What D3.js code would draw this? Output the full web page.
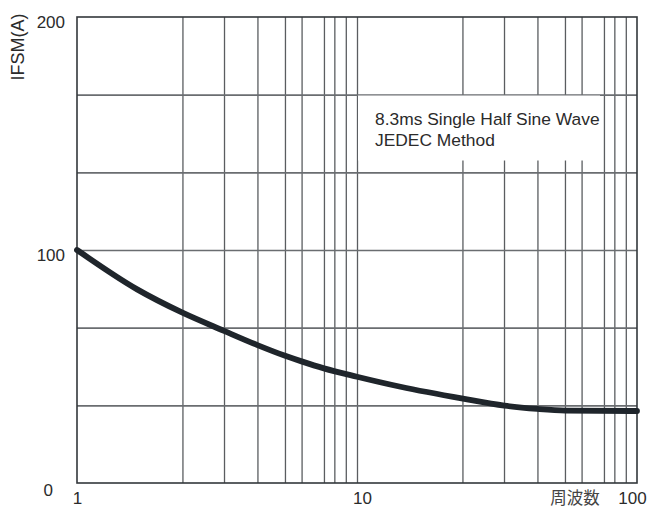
<!DOCTYPE html>
<html>
<head>
<meta charset="utf-8">
<script src="https://cdn.jsdelivr.net/npm/d3@7"></script>
<style>
  body { margin: 0; background: #fff; }
  svg { display: block; }
  text { font-family: "Liberation Sans", Arial, sans-serif; fill: #2b2b2b; }
</style>
</head>
<body>
<svg width="648" height="508"></svg>
<script>
// surge current vs number of cycles
var cycles = [1, 1.64, 2.38, 3.35, 4.41, 5.54, 6.34, 7.62, 10, 14.3, 23.9, 33.6, 44, 55.5, 100];
var ifsm   = [100, 83.1, 73.1, 65.3, 59.2, 54.6, 52.2, 49.2, 45.6, 41.3, 36.2, 33.2, 31.8, 31.1, 30.9];

var xTicks = [1, 10, 100];
var yTicks = [0, 100, 200];
var decades = [1, 10];
var minorMant = [2.38, 3.35, 4.41, 5.53, 6.34, 7.62, 8.3, 9.12];
var ySteps = [1, 2, 3, 4, 5];

var note = ["8.3ms Single Half Sine Wave", "JEDEC Method"];

var pLeft = 77, pTop = 17, pRight = 637, pBottom = 483;

var xs = d3.scaleLog().domain([1, 100]).range([pLeft, pRight]);
var ys = d3.scaleLinear().domain([0, 200]).range([pBottom, pTop]);

var svg = d3.select("svg");

// vertical grid
var vGrid = [];
decades.forEach(function(d){
  minorMant.forEach(function(m){ vGrid.push(d * m); });
});
vGrid.push(10);

svg.append("g")
  .attr("transform", "translate(0," + pTop + ")")
  .call(d3.axisBottom(xs).tickValues(vGrid).tickSize(pBottom - pTop).tickFormat(""))
  .call(function(g){
    g.select(".domain").remove();
    g.selectAll("line").attr("stroke", "#5a5d60").attr("stroke-width", 1.3);
  });

// horizontal grid
svg.append("g")
  .attr("transform", "translate(" + pLeft + ",0)")
  .call(d3.axisRight(ys).tickValues(ySteps.map(function(i){ return i * 200 / 6; }))
        .tickSize(pRight - pLeft).tickFormat(""))
  .call(function(g){
    g.select(".domain").remove();
    g.selectAll("line").attr("stroke", "#6a6d70").attr("stroke-width", 1.6);
  });

// note box
svg.append("rect")
  .attr("x", 358).attr("y", 95.5)
  .attr("width", 242).attr("height", 65)
  .attr("fill", "#fff");

svg.append("g").selectAll("text").data(note).enter().append("text")
  .attr("x", 375)
  .attr("y", function(d, i){ return 125 + i * 21; })
  .attr("font-size", 17.4)
  .text(function(d){ return d; });

// frame
svg.append("rect")
  .attr("x", pLeft).attr("y", pTop)
  .attr("width", pRight - pLeft).attr("height", pBottom - pTop)
  .attr("fill", "none")
  .attr("stroke", "#33373b")
  .attr("stroke-width", 1.6);

// curve
var line = d3.line()
  .x(function(d, i){ return xs(cycles[i]); })
  .y(function(d){ return ys(d); })
  .curve(d3.curveMonotoneX);

svg.append("path")
  .datum(ifsm)
  .attr("d", line)
  .attr("fill", "none")
  .attr("stroke", "#1f252b")
  .attr("stroke-width", 5.8)
  .attr("stroke-linecap", "round")
  .attr("stroke-linejoin", "round");

// axes labels
var xOff = {1: 0, 10: 5, 100: -5};
svg.append("g")
  .attr("transform", "translate(0," + pBottom + ")")
  .call(d3.axisBottom(xs).tickValues(xTicks).tickSize(0).tickFormat(d3.format("d")))
  .call(function(g){
    g.select(".domain").remove();
    g.selectAll("text")
      .attr("font-size", 17)
      .attr("font-family", "Liberation Sans, Arial, sans-serif")
      .attr("fill", "#2b2b2b")
      .attr("dy", null)
      .attr("y", 21)
      .attr("dx", function(d){ return xOff[d]; });
  });

var yOff = {0: -12, 100: 0, 200: 0};
var yDy = {0: 12, 100: 10, 200: 10};
svg.append("g")
  .attr("transform", "translate(" + pLeft + ",0)")
  .call(d3.axisLeft(ys).tickValues(yTicks).tickSize(0))
  .call(function(g){
    g.select(".domain").remove();
    g.selectAll("text")
      .attr("font-size", 17)
      .attr("font-family", "Liberation Sans, Arial, sans-serif")
      .attr("fill", "#2b2b2b")
      .attr("x", function(d){ return -12 + yOff[d]; })
      .attr("dy", null)
      .attr("y", function(d){ return yDy[d]; });
  });

svg.append("text")
  .attr("transform", "translate(24,47) rotate(-90)")
  .attr("text-anchor", "middle")
  .attr("font-size", 18)
  .text("IFSM(A)");

svg.append("text")
  .attr("x", 575).attr("y", 504)
  .attr("text-anchor", "middle")
  .attr("font-size", 16.5)
  .style("font-family", "'Noto Sans CJK JP', sans-serif")
  .style("fill", "#444")
  .text("周波数");
</script>
</body>
</html>
